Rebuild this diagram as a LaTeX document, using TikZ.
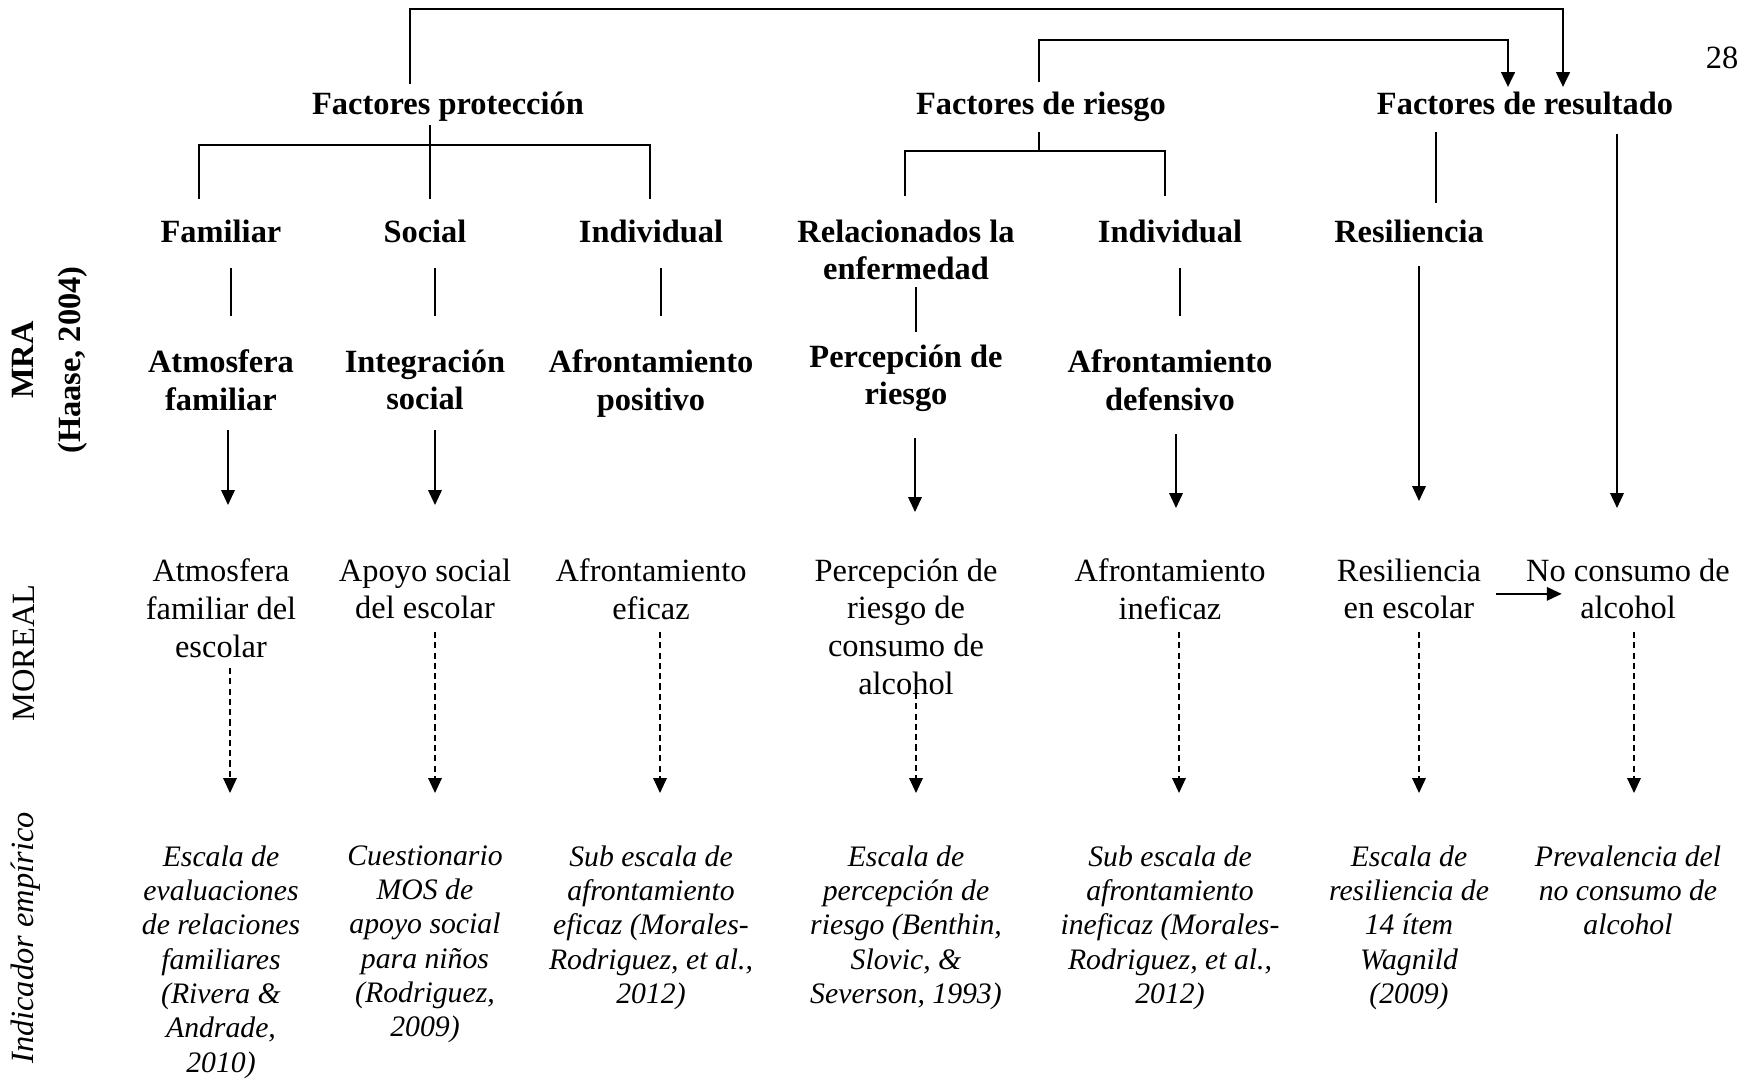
\documentclass[tikz,border=0pt]{standalone}
\usepackage{fontspec}
\setmainfont{Liberation Serif}
\usetikzlibrary{arrows.meta,calc}

\begin{document}
\begin{tikzpicture}[x=0.37pt, y=-0.37pt, >={Triangle[length=5.5pt, width=5pt]},
    every node/.style={inner sep=0pt, align=center},
    head/.style={font=\fontsize{12}{14}\selectfont\bfseries},
    plain/.style={font=\fontsize{12}{14}\selectfont},
    indic/.style={font=\fontsize{11}{12.7}\selectfont\itshape},
    link/.style={line width=0.4pt},
    toplink/.style={->, line width=1pt},
    solidarrow/.style={->, line width=0.6pt},
    dasharrow/.style={->, line width=0.5pt, dash pattern=on 2.3pt off 1.5pt}]
    \useasboundingbox (0,0) rectangle (1752,1081);

    % Page number.
    \node[plain] (page) at (1722,58) {28};

    % Row labels.
    \node[head, rotate=90, font=\fontsize{12}{17.4}\selectfont\bfseries] (mra) at (50,360) {MRA\\(Haase, 2004)};
    \node[plain, rotate=90] (moreal) at (24,653) {MOREAL};
    \node[plain, rotate=90, font=\fontsize{12}{14}\selectfont\itshape] (indicador) at (26,938) {Indicador empírico};

    % Factors.
    \foreach \name/\x/\txt in {fprot/448/Factores protección, fries/1041/Factores de riesgo, fres/1525/Factores de resultado}
        \node[head, anchor=north] (\name) at (\x,91) {\txt};

    % Dimensions.
    \foreach \name/\x/\txt in {familiar/221/Familiar, social/425/Social, indprot/651/Individual, relac/906/{Relacionados la\\enfermedad}, indries/1170/Individual, resil/1409/Resiliencia}
        \node[head, anchor=north] (\name) at (\x,219) {\txt};

    % MRA concepts.
    \foreach \name/\x/\y/\txt in {atmos/221/349/{Atmosfera\\familiar}, integ/425/349/{Integración\\social}, afpos/651/349/{Afrontamiento\\positivo}, percep/906/344/{Percepción de\\riesgo}, afdef/1170/349/{Afrontamiento\\defensivo}}
        \node[head, anchor=north] (\name) at (\x,\y) {\txt};

    % MOREAL concepts.
    \foreach \name/\x/\txt in {atmosm/221/{Atmosfera\\familiar del\\escolar}, apoyo/425/{Apoyo social\\del escolar}, eficaz/651/{Afrontamiento\\eficaz}, percepm/906/{Percepción de\\riesgo de\\consumo de\\alcohol}, ineficaz/1170/{Afrontamiento\\ineficaz}, resilm/1409/{Resiliencia\\en escolar}, nocons/1628/{No consumo de\\alcohol}}
        \node[plain, anchor=north] (\name) at (\x,558) {\txt};

    % Empirical indicators.
    \foreach \name/\x/\txt in {ind-1/221/{Escala de\\evaluaciones\\de relaciones\\familiares\\(Rivera \&\\Andrade,\\2010)}, ind-2/425/{Cuestionario\\MOS de\\apoyo social\\para niños\\(Rodriguez,\\2009)}, ind-3/651/{Sub escala de\\afrontamiento\\eficaz (Morales-\\Rodriguez, et al.,\\2012)}, ind-4/906/{Escala de\\percepción de\\riesgo (Benthin,\\Slovic, \&\\Severson, 1993)}, ind-5/1170/{Sub escala de\\afrontamiento\\ineficaz (Morales-\\Rodriguez, et al.,\\2012)}, ind-6/1409/{Escala de\\resiliencia de\\14 ítem\\Wagnild\\(2009)}, ind-7/1628/{Prevalencia del\\no consumo de\\alcohol}}
        \node[indic, anchor=north] (\name) at (\x,845) {\txt};

    % Links from factors to outcome.
    \draw[toplink] ($(fprot.north)+(-38,-7)$) -- ++(0,-75) -| ($(fres.north)+(38,-4)$);
    \draw[toplink] ($(fries.north)+(-2,-9)$) -- ++(0,-42) -| ($(fres.north)+(-17,-4)$);

    % Branches of factors.
    \draw[link] ($(fprot.north)+(-18,34)$) -- ($(social.north)+(5,-20)$);
    \draw[link] ($(familiar.north)+(-22,-20)$) |- ($(indprot.north)+(-1,-74)$) -- ++(0,54);
    \draw[link] ($(fries.north)+(-2,41)$) -- ++(0,19);
    \draw[link] ($(relac.north)+(-1,-23)$) |- ($(indries.north)+(-5,-68)$) -- ++(0,45);
    \draw[link] ($(fres.north)+(-89,41)$) -- ($(resil.north)+(27,-16)$);

    % Dimension to MRA concept.
    \foreach \a/\b in {familiar/atmos, social/integ, indprot/afpos, indries/afdef}
        \draw[link] ($(\a.north)+(10,49)$) -- ($(\b.north)+(10,-33)$);
    \draw[link] ($(relac.north)+(10,68)$) -- ($(percep.north)+(10,-12)$);

    % MRA concept to MOREAL concept.
    \foreach \a/\b/\dx/\s/\e in {atmos/atmosm/7/81/-53, integ/apoyo/10/81/-53, percep/percepm/9/94/-46, afdef/ineficaz/6/85/-50}
        \draw[solidarrow] ($(\a.north)+(\dx,\s)$) -- ($(\b.north)+(\dx,\e)$);
    \draw[solidarrow] ($(resil.north)+(10,47)$) -- ($(resilm.north)+(10,-57)$);
    \draw[solidarrow] ($(fres.north)+(92,43)$) -- ($(nocons.north)+(-11,-50)$);
    \draw[solidarrow] ($(resilm.east)+(14,5)$) -- ($(nocons.west)+(36,5)$);

    % MOREAL concept to empirical indicator.
    \foreach \a/\b/\dx/\s in {atmosm/ind-1/9/110, apoyo/ind-2/10/74, eficaz/ind-3/9/74, percepm/ind-4/10/135, ineficaz/ind-5/9/74, resilm/ind-6/10/74, nocons/ind-7/6/74}
        \draw[dasharrow] ($(\a.north)+(\dx,\s)$) -- ($(\b.north)+(\dx,-52)$);

\end{tikzpicture}
\end{document}
